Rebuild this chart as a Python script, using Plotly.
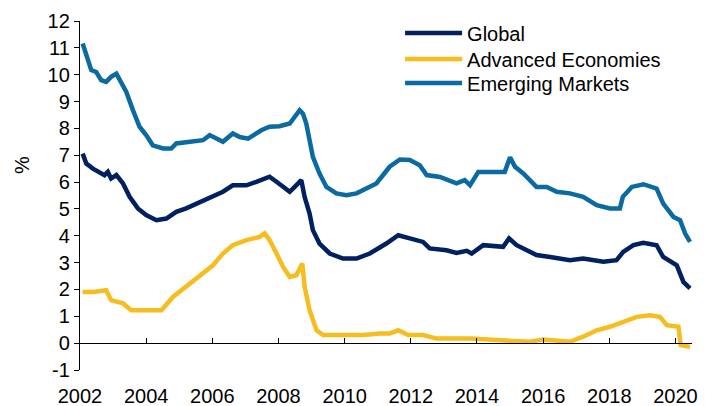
import plotly.graph_objects as go

# (decimal years, %)
em_years = [2002.08, 2002.19, 2002.34, 2002.49, 2002.64, 2002.79, 2002.94, 2003.10, 2003.25, 2003.40,
            2003.60, 2003.80, 2004.00, 2004.20, 2004.51, 2004.76, 2004.91, 2005.31, 2005.72, 2005.92,
            2006.12, 2006.32, 2006.62, 2006.83, 2007.08, 2007.33, 2007.48, 2007.73, 2008.03, 2008.34,
            2008.49, 2008.64, 2008.74, 2008.84, 2008.94, 2009.04, 2009.24, 2009.45, 2009.75, 2010.05,
            2010.36, 2010.56, 2010.96, 2011.36, 2011.67, 2011.97, 2012.27, 2012.48, 2012.88, 2013.38,
            2013.63, 2013.79, 2014.04, 2014.39, 2014.84, 2015.00, 2015.15, 2015.40, 2015.80, 2016.11,
            2016.41, 2016.81, 2017.21, 2017.62, 2018.02, 2018.32, 2018.41, 2018.68, 2019.03, 2019.43,
            2019.63, 2019.94, 2020.14, 2020.29, 2020.44]
em_values = [11.16, 10.79, 10.17, 10.10, 9.80, 9.73, 9.92, 10.04, 9.73, 9.36,
             8.68, 8.06, 7.75, 7.37, 7.25, 7.25, 7.44, 7.50, 7.56, 7.75,
             7.62, 7.50, 7.81, 7.68, 7.62, 7.81, 7.93, 8.06, 8.08, 8.18,
             8.43, 8.68, 8.55, 8.18, 7.56, 6.94, 6.32, 5.82, 5.58, 5.51,
             5.58, 5.70, 5.95, 6.57, 6.84, 6.82, 6.63, 6.26, 6.19, 5.95,
             6.07, 5.88, 6.38, 6.38, 6.38, 6.92, 6.57, 6.32, 5.82, 5.82,
             5.64, 5.58, 5.45, 5.14, 5.02, 5.02, 5.45, 5.82, 5.92, 5.76,
             5.20, 4.70, 4.58, 4.09, 3.77]

global_years = [2002.08, 2002.19, 2002.39, 2002.59, 2002.74, 2002.84, 2002.94, 2003.10, 2003.30, 2003.50,
                2003.75, 2004.00, 2004.31, 2004.61, 2004.91, 2005.21, 2005.62, 2006.02, 2006.32, 2006.62,
                2007.03, 2007.33, 2007.58, 2007.73, 2007.94, 2008.14, 2008.34, 2008.49, 2008.69, 2008.79,
                2008.94, 2009.04, 2009.24, 2009.55, 2009.95, 2010.36, 2010.76, 2011.26, 2011.62, 2011.97,
                2012.37, 2012.57, 2013.08, 2013.38, 2013.69, 2013.84, 2014.19, 2014.79, 2014.97, 2015.20,
                2015.80, 2016.21, 2016.81, 2017.21, 2017.82, 2018.22, 2018.42, 2018.73, 2019.03, 2019.43,
                2019.63, 2020.04, 2020.14, 2020.24, 2020.44]
global_values = [7.06, 6.69, 6.50, 6.38, 6.26, 6.38, 6.13, 6.26, 5.95, 5.45,
                 5.02, 4.77, 4.58, 4.64, 4.89, 5.02, 5.26, 5.51, 5.64, 5.88,
                 5.88, 6.01, 6.13, 6.20, 6.01, 5.82, 5.64, 5.82, 6.07, 5.45,
                 4.83, 4.21, 3.71, 3.34, 3.15, 3.15, 3.34, 3.71, 4.02, 3.90,
                 3.77, 3.53, 3.46, 3.36, 3.44, 3.34, 3.65, 3.59, 3.90, 3.65,
                 3.28, 3.21, 3.09, 3.15, 3.03, 3.09, 3.40, 3.65, 3.74, 3.65,
                 3.21, 2.90, 2.60, 2.28, 2.04]

adv_years = [2002.08, 2002.39, 2002.79, 2002.94, 2003.30, 2003.55, 2004.00, 2004.46, 2004.81, 2005.21,
             2005.62, 2006.02, 2006.32, 2006.62, 2007.03, 2007.43, 2007.58, 2007.73, 2007.94, 2008.14,
             2008.34, 2008.54, 2008.72, 2008.79, 2008.94, 2009.15, 2009.35, 2010.05, 2010.56, 2011.06,
             2011.36, 2011.62, 2011.92, 2012.37, 2012.78, 2013.79, 2014.59, 2015.60, 2016.00, 2016.81,
             2017.21, 2017.62, 2018.02, 2018.42, 2018.83, 2019.23, 2019.53, 2019.74, 2020.09, 2020.16,
             2020.44]
adv_values = [1.91, 1.91, 1.97, 1.60, 1.48, 1.23, 1.23, 1.23, 1.72, 2.10,
              2.47, 2.90, 3.34, 3.65, 3.84, 3.96, 4.09, 3.84, 3.34, 2.84,
              2.47, 2.53, 2.97, 2.10, 1.23, 0.48, 0.30, 0.30, 0.30, 0.36,
              0.36, 0.48, 0.30, 0.30, 0.17, 0.17, 0.11, 0.05, 0.14, 0.05,
              0.24, 0.48, 0.61, 0.79, 0.98, 1.04, 0.98, 0.67, 0.61, -0.07,
              -0.14]

x_ticks = [2002, 2004, 2006, 2008, 2010, 2012, 2014, 2016, 2018, 2020]
y_ticks = [-1, 0, 1, 2, 3, 4, 5, 6, 7, 8, 9, 10, 11, 12]
y_tick_labels = ['-1', '0', '1', '2', '3', '4', '5', '6', '7', '8', '9', '10', '11', '12']
x_range = [2002, 2020.5]
y_range = [-1, 12]

FONT = "Liberation Sans, Arial, sans-serif"

fig = go.Figure()

fig.add_trace(go.Scatter(x=global_years, y=global_values, mode='lines', name='Global',
                         line=dict(color='#002060', width=4.5), legend='legend'))
fig.add_trace(go.Scatter(x=adv_years, y=adv_values, mode='lines', name='Advanced Economies',
                         line=dict(color='#F5BD1F', width=4.5), legend='legend2'))
fig.add_trace(go.Scatter(x=em_years, y=em_values, mode='lines', name='Emerging Markets',
                         line=dict(color='#0A6AA1', width=4.5), legend='legend3'))
# empty trace so the zero-crossing axis gets drawn
fig.add_trace(go.Scatter(x=[], y=[], xaxis='x2', showlegend=False, hoverinfo='skip'))

# one legend per series so the rows can sit as tightly as in the original
legend_style = dict(x=0.523, xanchor='left', yanchor='middle', bgcolor='rgba(0,0,0,0)',
                    font=dict(size=20), itemwidth=57)

fig.update_layout(
    width=712, height=406,
    margin=dict(l=80, r=20, t=21, b=36, autoexpand=False),
    plot_bgcolor='white', paper_bgcolor='white',
    font=dict(family=FONT, size=20, color='black'),
    showlegend=True,
    legend=dict(legend_style, y=0.9656),
    legend2=dict(legend_style, y=0.8911),
    legend3=dict(legend_style, y=0.8223),
    xaxis=dict(range=x_range, tickvals=x_ticks, showline=False, ticks='',
               showgrid=False, zeroline=False, ticklabelstandoff=12),
    xaxis2=dict(range=x_range, overlaying='x', anchor='free', position=1 / 13,
                tickvals=x_ticks, showticklabels=False, showline=True,
                linecolor='black', linewidth=1.3, ticks='inside', ticklen=5,
                tickcolor='black', showgrid=False, zeroline=False),
    yaxis=dict(range=y_range, tickvals=y_ticks, ticktext=y_tick_labels,
               showline=True, linecolor='black', linewidth=1.3,
               ticks='outside', ticklen=5, tickcolor='black', showgrid=False,
               zeroline=False),
    annotations=[dict(text='%', x=-0.095, y=0.587, xref='paper', yref='paper',
                      xanchor='center', yanchor='middle',
                      showarrow=False, textangle=-90, font=dict(size=20))],
)

# drop the default page margin so the figure sits at the window's corner
fig.write_html("out.html", config={'displayModeBar': False},
               post_script="document.body.style.margin='0';")
